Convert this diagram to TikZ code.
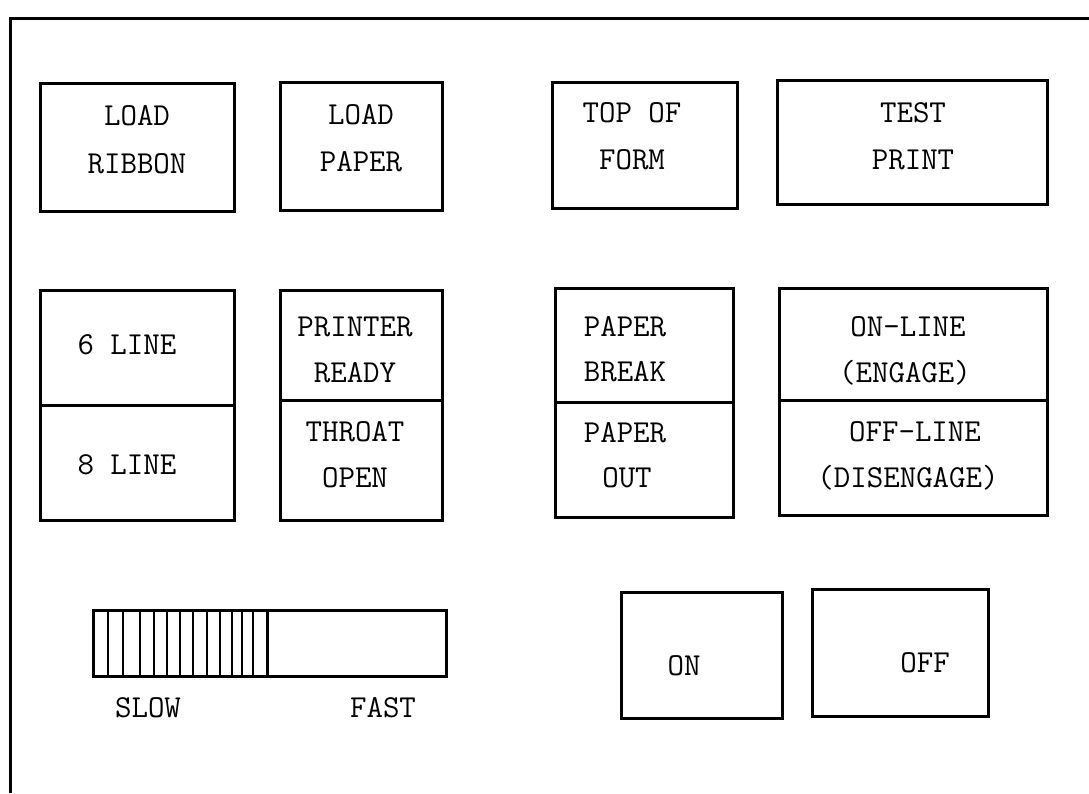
\documentclass[tikz,border=0pt]{standalone}
\begin{document}
\begin{tikzpicture}[x=1pt,y=-1pt,
  frame/.style={line width=3pt},
  panel/.style={draw,line width=3pt,rectangle,inner sep=0pt},
  lbl/.style={anchor=base,inner sep=0pt,font=\fontsize{32}{38}\selectfont\ttfamily},
  stripe/.style={line width=2.5pt}]
\useasboundingbox (0,0) rectangle (1089,793);
% outer frame
\coordinate (fa) at (1089,18);
\coordinate (fb) at (10,18);
\coordinate (fc) at (10,793);
\draw[frame] (fa) -- (fb) -- (fc);
% row 1
\node[panel,minimum width=194,minimum height=128] (lr) at (137,147) {};
\node[panel,minimum width=162,minimum height=128] (lp) at (361,146) {};
\node[panel,minimum width=185,minimum height=126] (tof) at (645,145) {};
\node[panel,minimum width=270,minimum height=124] (tp) at (912,142) {};
\node[lbl] (t1) at (137,125) {LOAD};
\node[lbl] (t2) at (137,173) {RIBBON};
\node[lbl] (t3) at (361,124) {LOAD};
\node[lbl] (t4) at (361,171) {PAPER};
\node[lbl] (t5) at (632,122) {TOP OF};
\node[lbl] (t6) at (632,169) {FORM};
\node[lbl] (t7) at (913,122) {TEST};
\node[lbl] (t8) at (913,169) {PRINT};
% row 2
\node[panel,minimum width=194,minimum height=115] (l6) at (137,347.5) {};
\node[panel,minimum width=194,minimum height=115] (l8) at (137,462.5) {};
\node[panel,minimum width=162,minimum height=110] (pr) at (361,345) {};
\node[panel,minimum width=162,minimum height=120] (to) at (361,460) {};
\node[panel,minimum width=178,minimum height=114] (pb) at (644,345) {};
\node[panel,minimum width=178,minimum height=115] (po) at (644,459.5) {};
\node[panel,minimum width=268,minimum height=112] (onl) at (913,344) {};
\node[panel,minimum width=268,minimum height=115] (offl) at (913,457.5) {};
\node[lbl] (u1) at (127,354) {6 LINE};
\node[lbl] (u2) at (127,474) {8 LINE};
\node[lbl] (u3) at (355,336) {PRINTER};
\node[lbl] (u4) at (355,382) {READY};
\node[lbl] (u5) at (355,441) {THROAT};
\node[lbl] (u6) at (355,487) {OPEN};
\node[lbl] (u7) at (625,336) {PAPER};
\node[lbl] (u8) at (625,381) {BREAK};
\node[lbl] (u9) at (625,442) {PAPER};
\node[lbl] (u10) at (627,487) {OUT};
\node[lbl] (u11) at (908,336) {ON-LINE};
\node[lbl] (u12) at (905,382) {(ENGAGE)};
\node[lbl] (u13) at (915,441) {OFF-LINE};
\node[lbl] (u14) at (908,487) {(DISENGAGE)};
% row 3: speed slider
\node[panel,minimum width=353,minimum height=66] (sl) at (269.5,643) {};
\foreach \sx in {108,123,140,154,167,180,193,207,220,232,242,253} {
  \draw[stripe] (\sx,610) -- (\sx,676);
}
\draw[line width=3pt] (267,610) -- (267,676);
\node[lbl] (slow) at (148,717) {SLOW};
\node[lbl] (fast) at (383,717) {FAST};
% on / off
\node[panel,minimum width=161,minimum height=126] (on) at (701.5,655) {};
\node[panel,minimum width=176,minimum height=127] (off) at (900,652.5) {};
\node[lbl] (v1) at (684,675) {ON};
\node[lbl] (v2) at (925,672) {OFF};
\end{tikzpicture}
\end{document}
